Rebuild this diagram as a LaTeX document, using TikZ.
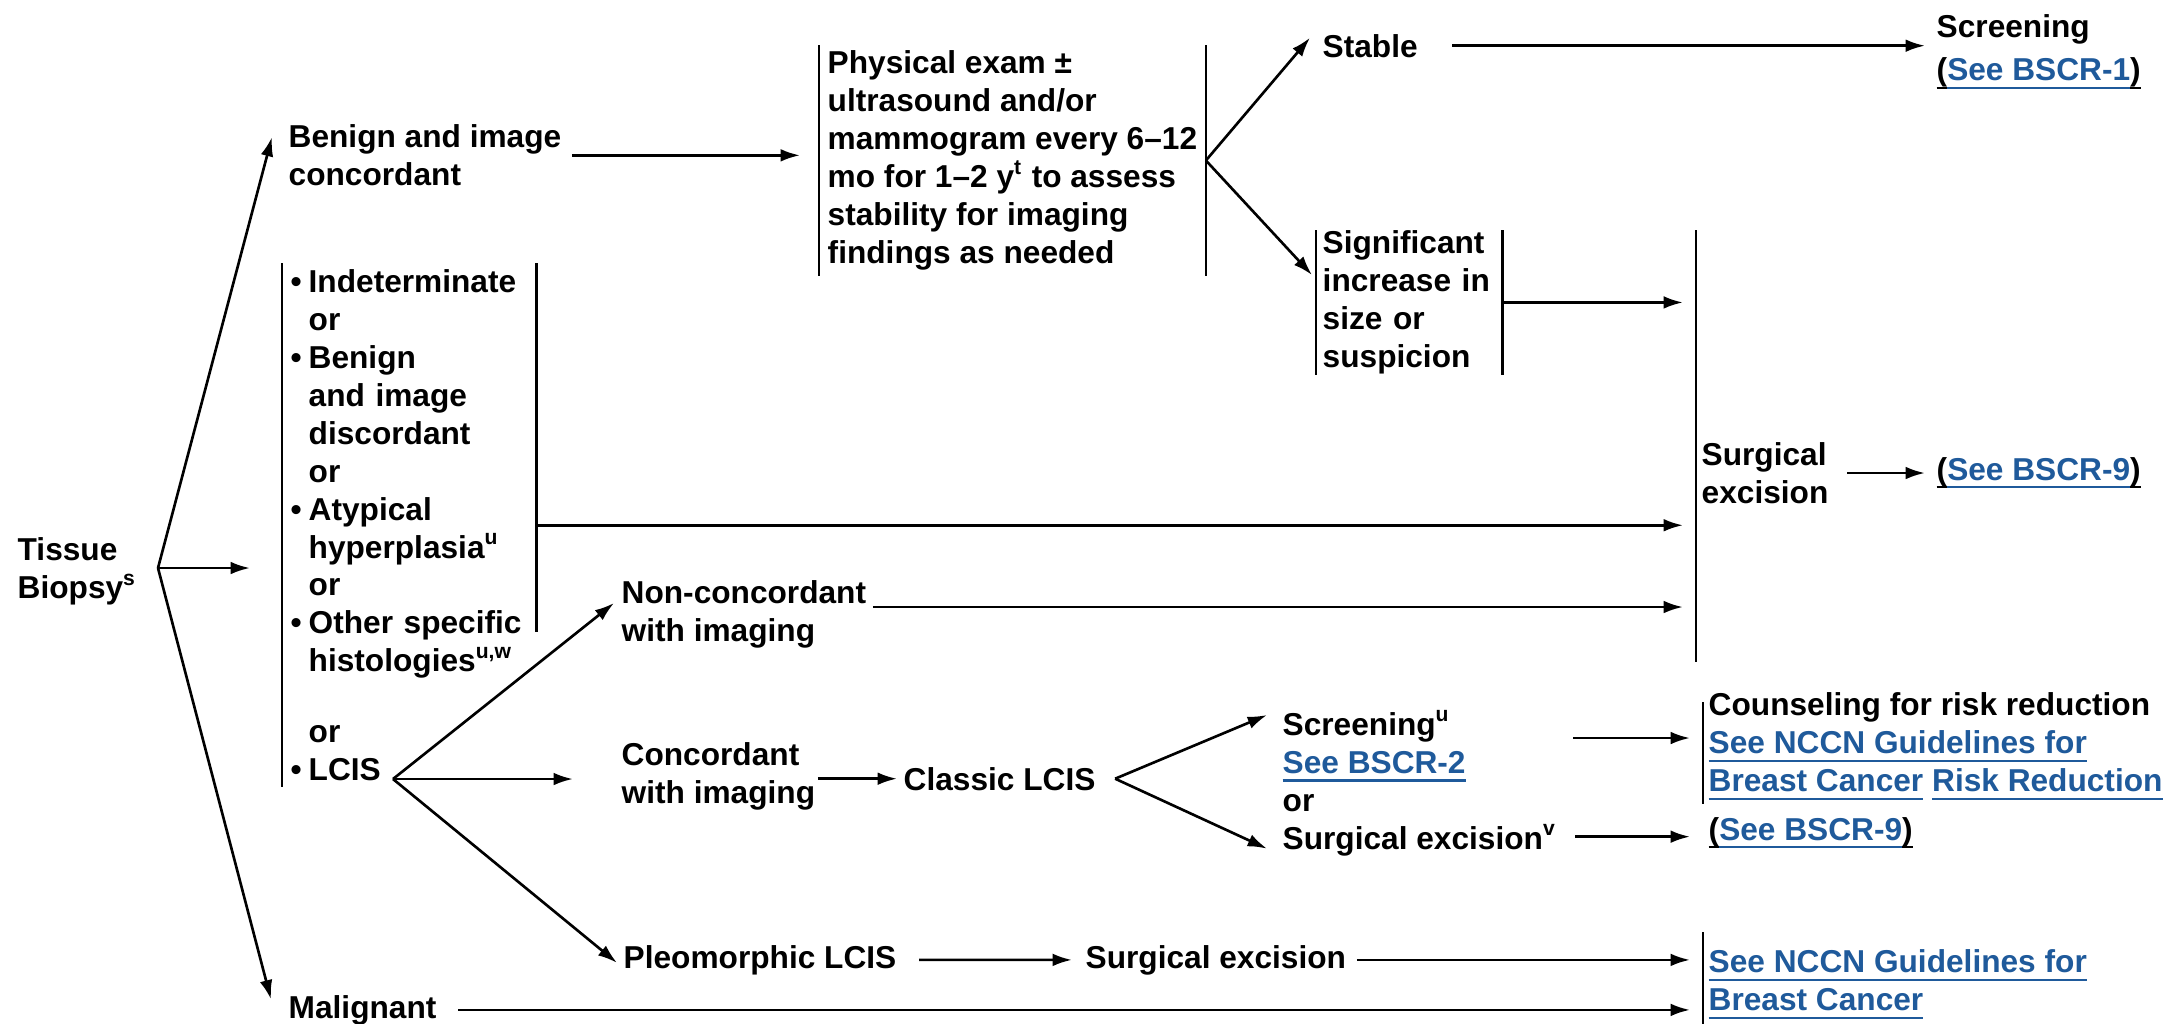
\documentclass[tikz,border=0pt]{standalone}
\usepackage{fontspec}
\setmainfont{Liberation Sans}
\usetikzlibrary{arrows.meta,calc}

\newsavebox{\ulbox}
\newcommand{\uln}[1]{\sbox{\ulbox}{#1}\rlap{\rule[-2.4pt]{\wd\ulbox}{0.7pt}}\usebox{\ulbox}} % underline
\newcommand{\lnk}[1]{\textcolor{linkBlue}{\uln{#1}}} % blue underlined reference
\newcommand{\plnk}[1]{\uln{(}\lnk{#1}\uln{)}} % reference in brackets
\newcommand{\itm}{\makebox[0.18cm][l]{•}} % bullet of a list line
\newcommand{\ind}{\makebox[0.18cm]{}} % indent of a follow-on line

\begin{document}
\begin{tikzpicture}[
  x=0.01cm, y=-0.01cm, % one unit is one pixel of the reference, y grows downwards
  txt/.style={inner sep=0pt, font=\bfseries\fontsize{9}{10.8}\selectfont, align=left},
  mline/.style={txt, anchor=north west}, % several lines, placed by top left corner
  sline/.style={txt, anchor=base west}, % one line, placed on its baseline
  arr/.style={line width=0.75pt, -{Latex[length=5.5pt,width=3.6pt]}, shorten >=0.13cm},
  bar/.style={line width=0.65pt}
]

% Define colors
\definecolor{linkBlue}{RGB}{31,90,155} % blue of the references

\fill[white] (0,0) rectangle (2173,1023);
\useasboundingbox (0,0) rectangle (2173,1023);

% Left column
\node[mline] (tissue) at (17,537) {Tissue\\Biopsy\textsuperscript{s}};
\node[mline] (benign) at (288,124) {Benign and image\\concordant};
\node[mline, text width=2.37cm, inner xsep=0.08cm, inner ysep=0.055cm] (indet) at (282,263)
  {\itm Indeterminate\\\ind or\\\itm Benign\\\ind and image\\\ind discordant\\\ind or\\
   \itm Atypical\\\ind hyperplasia\textsuperscript{u}\\\ind or\\\itm Other specific\\
   \ind histologies\textsuperscript{u,w}\\[9.4pt]\ind or\\\itm LCIS};
\node[sline] (malig) at (288,1018) {Malignant};

% Benign branch
\node[mline, inner xsep=0.08cm, inner ysep=0.05cm] (exam) at (819,45)
  {Physical exam ±\\ultrasound and/or\\mammogram every 6–12\\mo for 1–2 y\textsuperscript{t} to assess\\stability for imaging\\findings as needed};
\node[sline] (stable) at (1322,57) {Stable};
\node[mline] (screen) at (1936,14) {Screening\\[1.5pt]\plnk{See BSCR-1}};
\node[mline, text width=1.73cm, inner xsep=0.06cm] (signif) at (1316,230) {Significant\\increase in\\size or\\suspicion};

% Surgical excision column
\coordinate (sbartop) at (1696,230);
\coordinate (sbarbot) at (1696,662);
\node[mline] (surgexc) at (1701,442) {Surgical\\excision};
\node[sline] (bscr9a) at (1936,480) {\plnk{See BSCR-9}};

% LCIS branch
\node[mline] (noncon) at (621,580) {Non-concordant\\with imaging};
\node[mline] (concord) at (621,742) {Concordant\\with imaging};
\node[sline] (classic) at (903,790) {Classic LCIS};
\node[mline] (lcisopt) at (1282,710) {Screening\textsuperscript{u}\\\lnk{See BSCR-2}\\or\\Surgical excision\textsuperscript{v}};
\node[mline] (couns) at (1708,692) {Counseling for risk reduction\\\lnk{See NCCN Guidelines for}\\\lnk{Breast Cancer} \lnk{Risk Reduction}};
\node[sline] (bscr9b) at (1708,840) {\plnk{See BSCR-9}};
\node[sline] (pleo) at (623,968) {Pleomorphic LCIS};
\node[sline] (surgpl) at (1085,968) {Surgical excision};
\node[mline] (nccn) at (1708,949) {\lnk{See NCCN Guidelines for}\\\lnk{Breast Cancer}};

% Side bars
\draw[bar] (exam.north west) -- (exam.south west);
\draw[bar] (exam.north east) -- (exam.south east);
\draw[bar] (signif.north west) -- (signif.south west);
\draw[bar] (signif.north east) -- (signif.south east);
\draw[bar] (indet.north west) -- (indet.south west);
\draw[bar] (indet.north east) -- ($(indet.north east)+(0,369)$);
\draw[bar] (sbartop) -- (sbarbot);
\draw[bar] ($(couns.north west)+(-5,10)$) -- ($(couns.south west)+(-5,3)$);
\draw[bar] ($(nccn.north west)+(-5,-17)$) -- ($(nccn.south west)+(-5,13)$);

% Arrows from the biopsy
\coordinate (fork0) at (158,568);
\draw[arr, shorten >=0pt] (fork0) -- ($(benign.north west)+(-16,13)$);
\draw[arr, shorten >=0.32cm] (fork0) -- (fork0 -| indet.west);
\draw[arr, shorten >=0pt] (fork0) -- ($(malig.north west)+(-17,5)$);

% Arrows of the benign branch
\draw[arr, shorten <=0.1cm, shorten >=0.19cm] (benign.east) -- (benign.east -| exam.west);
\draw[arr, shorten >=0pt] (exam.east) -- ($(stable.west)+(-12,-8)$);
\draw[arr, shorten >=0pt] (exam.east) -- ($(signif.north west)+(-4,45)$);
\draw[arr, shorten <=0.34cm, shorten >=0.11cm] (stable.east) -- (stable.east -| screen.west);
\draw[arr] (signif.east) -- (signif.east -| sbartop);
\draw[arr] (indet.east) -- (indet.east -| sbartop);
\coordinate (sestart) at ($(surgexc.north east)+(18,31)$);
\draw[arr, shorten >=0.11cm] (sestart) -- (sestart -| bscr9a.west);

% Arrows of the LCIS branch
\coordinate (fork1) at (393,779);
\draw[arr, shorten >=0pt] (fork1) -- ($(noncon.north west)+(-7,23)$);
\draw[arr, shorten >=0.48cm] (fork1) -- (fork1 -| concord.west);
\draw[arr, shorten >=0pt] (fork1) -- ($(pleo.west)+(-6,3)$);
\coordinate (ncstart) at ($(noncon.north east)+(6,27)$);
\draw[arr] (ncstart) -- (ncstart -| sbartop);
\draw[arr, shorten <=0.02cm, shorten >=0.06cm] (concord.east |- classic.west) -- (classic.west);
\coordinate (fork2) at ($(classic.east)+(19,0)$);
\draw[arr, shorten >=0pt] (fork2) -- ($(lcisopt.north west)+(-15,5)$);
\draw[arr, shorten >=0pt] (fork2) -- ($(lcisopt.south west)+(-15,-8)$);
\coordinate (scstart) at ($(lcisopt.north east)+(16,28)$);
\draw[arr, shorten >=0.18cm] (scstart) -- (scstart -| couns.west);
\coordinate (sxstart) at ($(lcisopt.south east)+(18,-20)$);
\draw[arr, shorten >=0.18cm] (sxstart) -- (sxstart -| bscr9b.west);
\draw[arr, shorten <=0.22cm] (pleo.east) -- (surgpl.west);
\draw[arr, shorten <=0.1cm, shorten >=0.18cm] (surgpl.east) -- (surgpl.east -| nccn.west);
\draw[arr, shorten <=0.21cm, shorten >=0.18cm] (malig.east) -- (malig.east -| nccn.west);

\end{tikzpicture}
\end{document}
